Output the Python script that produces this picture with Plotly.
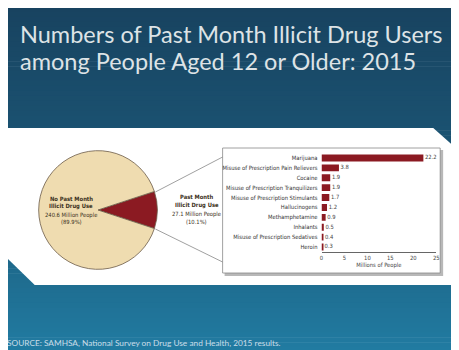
import plotly.graph_objects as go

W, H = 451, 342   # page body has an 8px margin; figure fills the rest of the 459x350 window
OFF = 8

# ---- data ----
pie_labels = ["Past Month Illicit Drug Use", "No Past Month Illicit Drug Use"]
pie_values = [27.1, 240.6]
pie_pcts = ["(10.1%)", "(89.9%)"]

drug_names = ["Marijuana", "Misuse of Prescription Pain Relievers", "Cocaine",
              "Misuse of Prescription Tranquilizers", "Misuse of Prescription Stimulants",
              "Hallucinogens", "Methamphetamine", "Inhalants",
              "Misuse of Prescription Sedatives", "Heroin"]
drug_values = [22.2, 3.8, 1.9, 1.9, 1.7, 1.2, 0.9, 0.5, 0.4, 0.3]
x_ticks = [0, 5, 10, 15, 20, 25]

title_lines = ["Numbers of Past Month Illicit Drug Users",
               "among People Aged 12 or Older: 2015"]
source_text = "SOURCE: SAMHSA, National Survey on Drug Use and Health, 2015 results."


def px(x):
    return (x - OFF) / W


def py(y):
    return 1 - (y - OFF) / H


def path(pts):
    return "M " + " L ".join(f"{px(x):.5f},{py(y):.5f}" for x, y in pts) + " Z"


NARROW = "Liberation Sans Narrow, Arial Narrow, DejaVu Sans Condensed, sans-serif"
FS = 5.8
RED = "#8b1a22"
TAN = "#efdcb0"
P = dict(xref="paper", yref="paper", layer="below")

fig = go.Figure()

# pie
pcx, pcy, pr = 97, 210, 60
fig.add_trace(go.Pie(
    labels=pie_labels, values=pie_values, sort=False, direction="clockwise",
    rotation=90 - 0.5 * 360 * pie_values[0] / sum(pie_values),
    marker=dict(colors=[RED, TAN], line=dict(color="#6b5a48", width=0.8)),
    textinfo="none", hoverinfo="label+value", showlegend=False,
    domain=dict(x=[px(pcx - pr), px(pcx + pr)], y=[py(pcy + pr), py(pcy - pr)]),
))

# bars
fig.add_trace(go.Bar(
    x=drug_values, y=drug_names, orientation="h",
    marker=dict(color=RED, line=dict(width=0)),
    showlegend=False, hoverinfo="x+y",
))
# value labels
fig.add_trace(go.Scatter(
    x=drug_values, y=drug_names, mode="text",
    text=[f" {v:.1f}" for v in drug_values], textposition="middle right",
    textfont=dict(family=NARROW, size=FS, color="#444"),
    cliponaxis=False, showlegend=False, hoverinfo="skip",
))

fig.update_layout(
    width=W, height=H, margin=dict(l=0, r=0, t=0, b=0),
    paper_bgcolor="white", plot_bgcolor="rgba(0,0,0,0)",
    bargap=0.3,
    xaxis=dict(domain=[px(323), px(439)], range=[0, 25], tickvals=x_ticks,
               showgrid=False, zeroline=False, showline=True, linecolor="#666",
               linewidth=0.8, ticks="", ticklen=0,
               tickfont=dict(family=NARROW, size=FS, color="#444"),
               title=dict(text="Millions of People", standoff=3,
                          font=dict(family=NARROW, size=FS, color="#444")),
               fixedrange=True),
    yaxis=dict(domain=[py(252), py(153)], autorange="reversed",
               showgrid=False, zeroline=False, showline=False, ticks="",
               ticklabelstandoff=3,
               tickfont=dict(family=NARROW, size=FS, color="#333"),
               fixedrange=True),
)

shapes = []
# slide background: vertical gradient made of strips
top_c = (0x18, 0x43, 0x60)
mid_c = (0x1b, 0x57, 0x77)
bot_c = (0x21, 0x7c, 0xa2)
N = 70
y0s, y1s = 7, 352
for i in range(N):
    t = (i + 0.5) / N
    if t < 0.5:
        a, b, u = top_c, mid_c, t / 0.5
    else:
        a, b, u = mid_c, bot_c, (t - 0.5) / 0.5
    c = tuple(round(a[k] + (b[k] - a[k]) * u) for k in range(3))
    ya = y0s + (y1s - y0s) * i / N
    yb = y0s + (y1s - y0s) * (i + 1) / N + 0.6
    shapes.append(dict(type="rect", x0=px(5), x1=px(462), y0=py(ya), y1=py(yb),
                       fillcolor="rgb(%d,%d,%d)" % c, line=dict(width=0), **P))
# white band
shapes.append(dict(type="path", path=path([(5, 128), (436, 128), (460, 149), (460, 285),
                                           (33, 285), (5, 258)]),
                   fillcolor="white", line=dict(width=0), **P))
# box shadow + box
shapes.append(dict(type="rect", x0=px(225), x1=px(446), y0=py(150), y1=py(276),
                   fillcolor="#b8b8b8", line=dict(width=0), **P))
shapes.append(dict(type="rect", x0=px(223), x1=px(443), y0=py(148), y1=py(273),
                   fillcolor="white", line=dict(color="#888", width=0.8), **P))
# connector lines
shapes.append(dict(type="line", x0=px(155), y0=py(192), x1=px(223), y1=py(157),
                   line=dict(color="#888", width=0.8), **P))
shapes.append(dict(type="line", x0=px(155), y0=py(229), x1=px(223), y1=py(262),
                   line=dict(color="#888", width=0.8), **P))
fig.update_layout(shapes=shapes)

ann = []
# title
for i, t in enumerate(title_lines):
    ann.append(dict(text=t, x=px(16), y=py(34 + 27 * i), xref="paper", yref="paper",
                    xanchor="left", yanchor="middle", showarrow=False,
                    font=dict(family="Lato, Open Sans, sans-serif", size=23.5, color="#dde3e6")))
# pie labels
left_lines = [("No Past Month", True), ("Illicit Drug Use", True),
              (f"{pie_values[1]} Million People", False), (pie_pcts[1], False)]
right_lines = [("Past Month", True), ("Illicit Drug Use", True),
               (f"{pie_values[0]} Million People", False), (pie_pcts[0], False)]
for (t, b), y in zip(left_lines, [199, 206.5, 215, 222.5]):
    ann.append(dict(text=f"<b>{t}</b>" if b else t, x=px(70), y=py(y), xref="paper", yref="paper",
                    showarrow=False, xanchor="center", yanchor="middle",
                    font=dict(family=NARROW, size=FS, color="#3a3020")))
for (t, b), y in zip(right_lines, [197, 205, 214.5, 222.5]):
    ann.append(dict(text=f"<b>{t}</b>" if b else t, x=px(197), y=py(y), xref="paper", yref="paper",
                    showarrow=False, xanchor="center", yanchor="middle",
                    font=dict(family=NARROW, size=FS, color="#3a3020")))
# source
ann.append(dict(text=source_text, x=px(3), y=py(343), xref="paper", yref="paper",
                xanchor="left", yanchor="middle", showarrow=False,
                font=dict(family="Lato, sans-serif", size=8.3, color="#c9dde8")))
fig.update_layout(annotations=ann)

fig.write_html("out.html")
